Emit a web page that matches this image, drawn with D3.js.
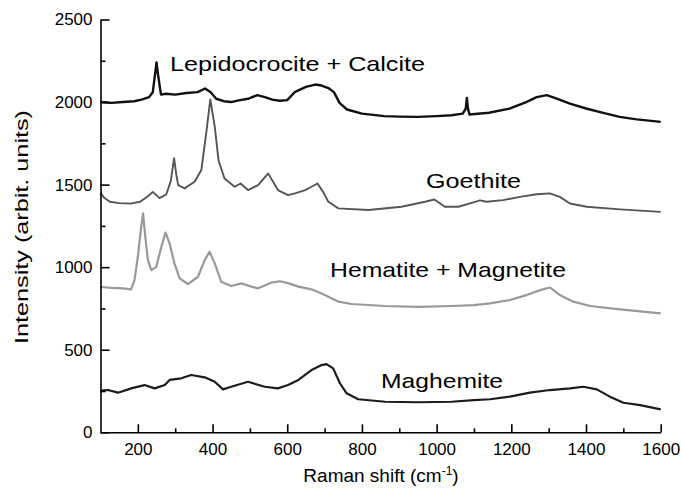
<!DOCTYPE html>
<html>
<head>
<meta charset="utf-8">
<script src="https://cdn.jsdelivr.net/npm/d3@7"></script>
<style>
    body { margin: 0; background: #fff; }
    svg { display: block; font-family: "Liberation Sans", Arial, sans-serif; }
    .axis path, .axis line { stroke: #000; stroke-width: 1.6; }
    .axis text { font-size: 17px; fill: #000; }
    .spectrum { fill: none; stroke-linejoin: round; }
    .series-label { font-size: 21px; fill: #000; }
    .axis-title { font-size: 19px; fill: #000; }
</style>
</head>
<body>
<div id="chart"></div>
<script>
// Raman shift (cm-1), intensity (arbit. units)
const lepidocrocite = [
    [100, 2000], [130, 1995], [160, 2000], [190, 2005], [210, 2015], [230, 2030],
    [240, 2060], [245, 2150], [250, 2240], [255, 2150], [262, 2045], [275, 2050],
    [300, 2045], [330, 2055], [360, 2060], [380, 2082], [395, 2060], [410, 2020],
    [430, 2005], [450, 2000], [470, 2010], [495, 2020], [520, 2042], [540, 2030],
    [560, 2015], [580, 2008], [600, 2012], [620, 2060], [650, 2092], [675, 2106],
    [692, 2100], [710, 2085], [725, 2060], [740, 1995], [760, 1955], [800, 1930],
    [860, 1915], [900, 1912], [950, 1910], [1000, 1915], [1040, 1920], [1070, 1930],
    [1078, 1960], [1081, 2025], [1084, 1960], [1088, 1925], [1140, 1935], [1195, 1960],
    [1240, 2000], [1268, 2030], [1295, 2042], [1320, 2022], [1357, 1991], [1400, 1961],
    [1446, 1935], [1490, 1910], [1536, 1895], [1600, 1880]
];
const goethite = [
    [100, 1450], [110, 1420], [125, 1396], [150, 1388], [180, 1385], [206, 1396],
    [227, 1430], [240, 1456], [258, 1418], [276, 1440], [288, 1520], [297, 1660],
    [303, 1560], [308, 1497], [325, 1477], [352, 1517], [370, 1588], [383, 1810],
    [394, 2016], [406, 1850], [416, 1648], [432, 1537], [459, 1487], [475, 1507],
    [495, 1467], [522, 1497], [549, 1568], [575, 1467], [602, 1436], [621, 1447],
    [648, 1467], [665, 1487], [681, 1507], [696, 1456], [710, 1396], [737, 1356],
    [817, 1346], [906, 1366], [969, 1396], [994, 1410], [1022, 1366], [1058, 1366],
    [1103, 1396], [1116, 1405], [1134, 1396], [1178, 1406], [1223, 1426], [1268, 1442],
    [1303, 1447], [1330, 1426], [1357, 1386], [1402, 1366], [1491, 1350], [1600, 1335]
];
const hematite = [
    [100, 880], [130, 875], [160, 872], [182, 866], [191, 922], [200, 1063],
    [209, 1245], [214, 1326], [220, 1184], [227, 1043], [236, 982], [249, 1002],
    [263, 1123], [274, 1210], [285, 1144], [298, 1023], [312, 932], [334, 898],
    [361, 942], [379, 1043], [392, 1093], [406, 1023], [423, 912], [450, 886],
    [477, 902], [500, 885], [522, 872], [557, 906], [580, 915], [600, 905],
    [630, 882], [665, 866], [701, 831], [737, 791], [772, 777], [862, 765],
    [951, 760], [1040, 765], [1100, 770], [1143, 781], [1196, 801], [1241, 831],
    [1277, 861], [1303, 877], [1330, 831], [1366, 791], [1411, 765], [1491, 745],
    [1600, 720]
];
const maghemite = [
    [100, 252], [120, 256], [147, 240], [182, 266], [218, 286], [245, 266],
    [272, 286], [285, 317], [316, 327], [343, 347], [379, 333], [406, 306],
    [428, 260], [450, 276], [495, 306], [540, 276], [575, 266], [602, 286],
    [630, 317], [665, 377], [692, 407], [705, 413], [723, 387], [741, 297],
    [759, 236], [790, 200], [862, 185], [951, 182], [1040, 185], [1100, 195],
    [1143, 200], [1196, 216], [1250, 240], [1303, 256], [1357, 266], [1393, 276],
    [1429, 260], [1464, 216], [1500, 179], [1545, 165], [1600, 139]
];

const xMajorTicks = [200, 400, 600, 800, 1000, 1200, 1400, 1600];
const xMinorTicks = [300, 500, 700, 900, 1100, 1300, 1500];
const yMajorTicks = [0, 500, 1000, 1500, 2000, 2500];
const yMinorTicks = [250, 750, 1250, 1750, 2250];

const series = [
    { name: "Lepidocrocite + Calcite", data: lepidocrocite, color: "#111111", stroke: 2.4, label: [170, 70.5], width: 255 },
    { name: "Goethite", data: goethite, color: "#555555", stroke: 1.9, label: [426, 188], width: 95 },
    { name: "Hematite + Magnetite", data: hematite, color: "#999999", stroke: 2.2, label: [330, 276.5], width: 236 },
    { name: "Maghemite", data: maghemite, color: "#1c1c1c", stroke: 2.2, label: [381, 388], width: 122 }
];

const width = 681, height = 488;
const x = d3.scaleLinear().domain([100, 1600]).range([100.5, 660.7]);
const y = d3.scaleLinear().domain([0, 2500]).range([432.3, 19.5]);
const fmt = d3.format("d");

const svg = d3.select("#chart").append("svg")
    .attr("width", width)
    .attr("height", height);

const line = d3.line()
    .x(d => x(d[0]))
    .y(d => y(d[1]));

svg.append("g").selectAll("path")
    .data(series)
    .enter()
    .append("path")
    .attr("class", "spectrum")
    .attr("stroke", d => d.color)
    .attr("stroke-width", d => d.stroke)
    .attr("d", d => line(d.data));

// axes, ticks pointing inward
svg.append("g")
    .attr("class", "axis")
    .attr("transform", `translate(0,${y(0)})`)
    .call(d3.axisBottom(x).tickValues(xMajorTicks).tickFormat(fmt)
        .tickSize(-8).tickSizeOuter(0).tickPadding(11));
svg.append("g")
    .attr("class", "axis")
    .attr("transform", `translate(0,${y(0)})`)
    .call(d3.axisBottom(x).tickValues(xMinorTicks).tickSize(-4).tickSizeOuter(0).tickFormat(""))
    .select(".domain").remove();

svg.append("g")
    .attr("class", "axis")
    .attr("transform", `translate(${x(100)},0)`)
    .call(d3.axisLeft(y).tickValues(yMajorTicks).tickFormat(fmt)
        .tickSize(-9).tickSizeOuter(0).tickPadding(8));
svg.append("g")
    .attr("class", "axis")
    .attr("transform", `translate(${x(100)},0)`)
    .call(d3.axisLeft(y).tickValues(yMinorTicks).tickSize(-5).tickSizeOuter(0).tickFormat(""))
    .select(".domain").remove();

svg.selectAll(".axis").attr("font-family", null).attr("font-size", null);

// series labels
svg.append("g").selectAll("text")
    .data(series)
    .enter()
    .append("text")
    .attr("class", "series-label")
    .attr("x", d => d.label[0])
    .attr("y", d => d.label[1])
    .attr("textLength", d => d.width)
    .attr("lengthAdjust", "spacingAndGlyphs")
    .text(d => d.name);

// axis titles
const xTitle = svg.append("text")
    .attr("class", "axis-title")
    .attr("x", 381)
    .attr("y", 482)
    .attr("text-anchor", "middle");
xTitle.append("tspan").text("Raman shift (cm");
xTitle.append("tspan").attr("dy", -7).attr("font-size", "12px").text("-1");
xTitle.append("tspan").attr("dy", 7).text(")");

svg.append("text")
    .attr("class", "axis-title")
    .attr("transform", "translate(28,227) rotate(-90)")
    .attr("text-anchor", "middle")
    .attr("textLength", 234)
    .attr("lengthAdjust", "spacingAndGlyphs")
    .text("Intensity (arbit. units)");
</script>
</body>
</html>
